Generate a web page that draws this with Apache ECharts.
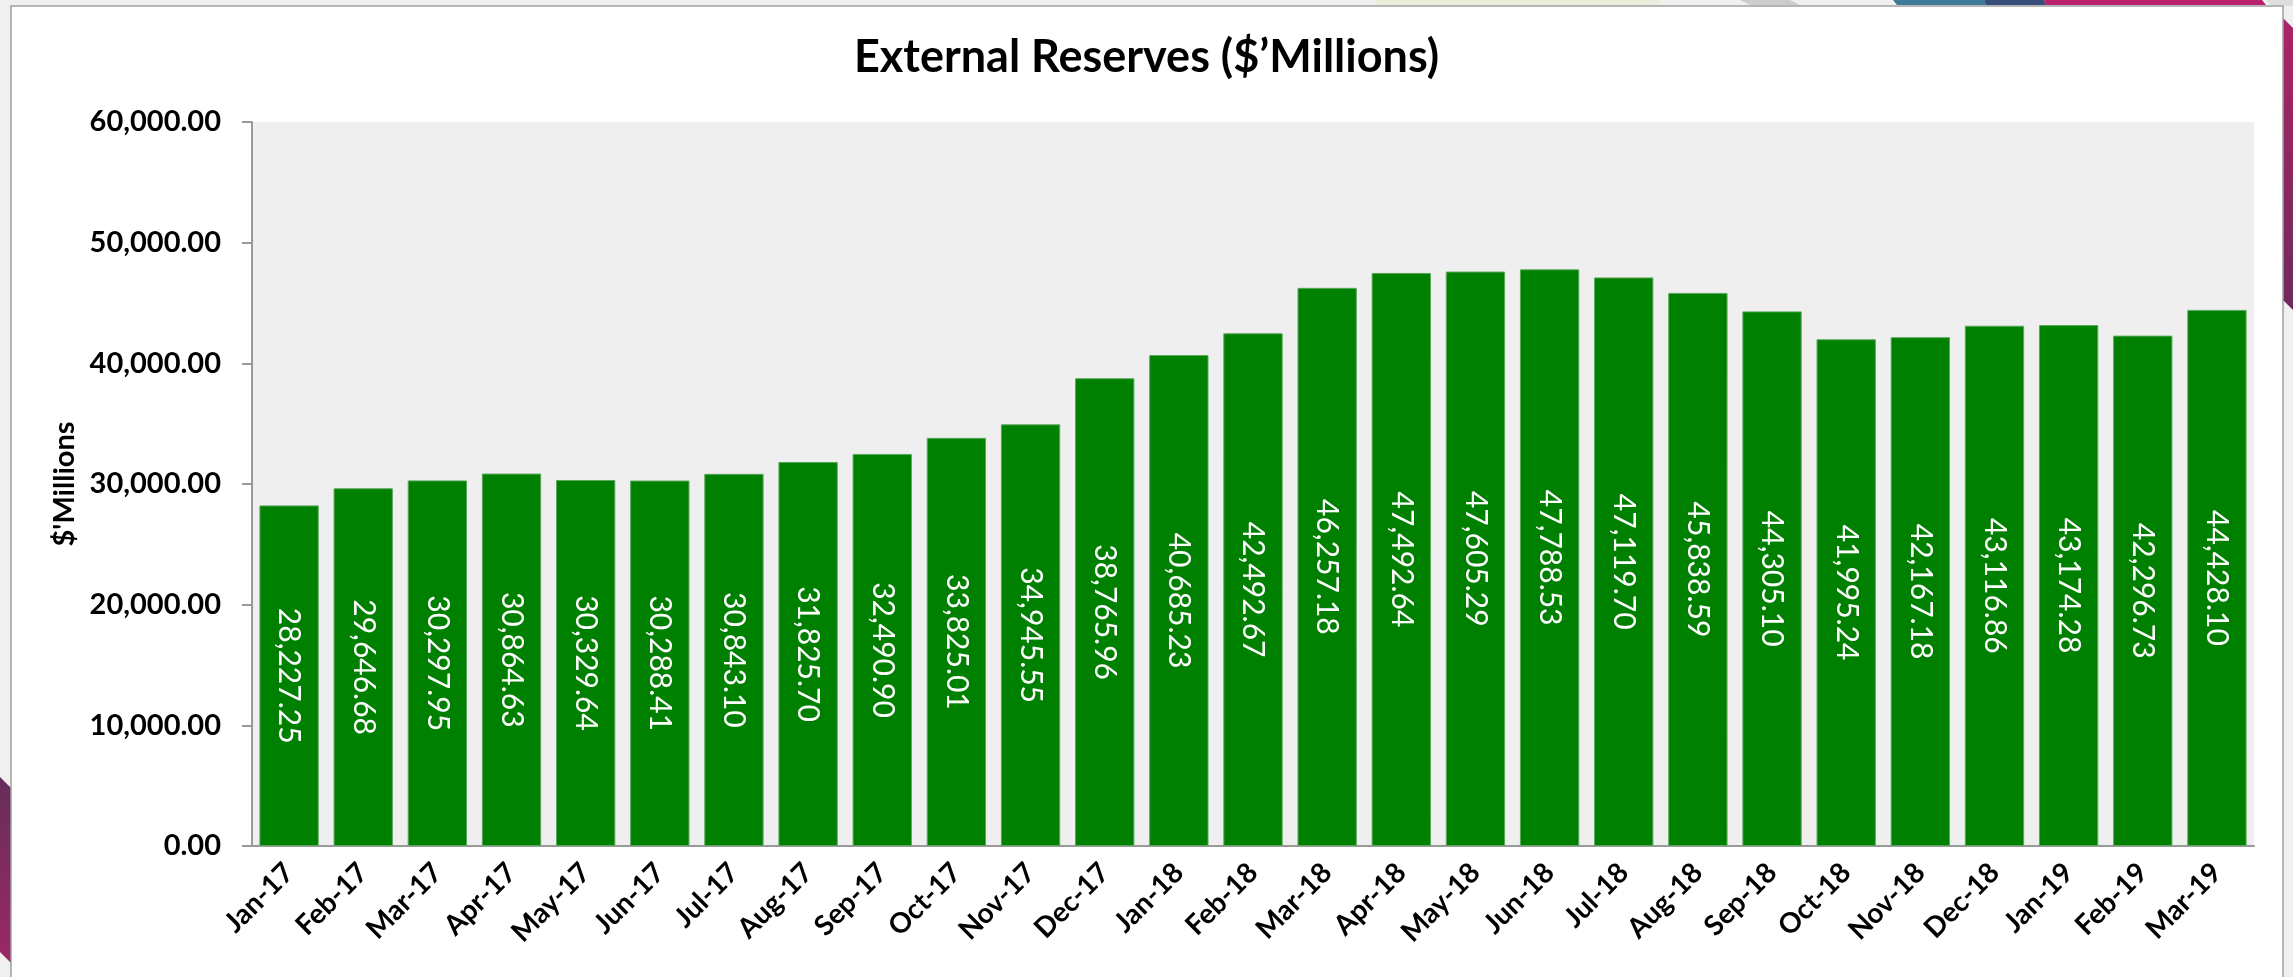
<!DOCTYPE html>
<html>
<head>
<meta charset="utf-8">
<title>External Reserves</title>
<script src="https://cdn.jsdelivr.net/npm/echarts@6/dist/echarts.min.js"></script>
<style>
  html, body { margin: 0; padding: 0; background: #f0f0f0; }
  #chart { width: 2293px; height: 977px; }
</style>
</head>
<body>
<div id="chart"></div>
<script>
// Monthly external reserves, $ millions
const months = [
  'Jan-17', 'Feb-17', 'Mar-17', 'Apr-17', 'May-17', 'Jun-17', 'Jul-17', 'Aug-17', 'Sep-17',
  'Oct-17', 'Nov-17', 'Dec-17', 'Jan-18', 'Feb-18', 'Mar-18', 'Apr-18', 'May-18', 'Jun-18',
  'Jul-18', 'Aug-18', 'Sep-18', 'Oct-18', 'Nov-18', 'Dec-18', 'Jan-19', 'Feb-19', 'Mar-19'
];
const reserves = [
  28227.25, 29646.68, 30297.95, 30864.63, 30329.64, 30288.41, 30843.10, 31825.70, 32490.90,
  33825.01, 34945.55, 38765.96, 40685.23, 42492.67, 46257.18, 47492.64, 47605.29, 47788.53,
  47119.70, 45838.59, 44305.10, 41995.24, 42167.18, 43116.86, 43174.28, 42296.73, 44428.10
];
const yTicks = [0, 10000, 20000, 30000, 40000, 50000, 60000];

const FONT = 'Lato, "Open Sans", sans-serif';
const fmt = v => Number(v).toLocaleString('en-US', { minimumFractionDigits: 2, maximumFractionDigits: 2 });

const chart = echarts.init(document.getElementById('chart'), null, { renderer: 'canvas' });

// slide frame and decorative strips around the chart panel
const decorations = [
  { type: 'rect', shape: { x: 11, y: 6, width: 2272, height: 990 },
    style: { fill: '#ffffff', stroke: '#a0a0a0', lineWidth: 1.5 }, z: -10 },
  { type: 'polygon', shape: { points: [[1376, 0], [1661, 0], [1661, 5], [1376, 5]] },
    style: { fill: '#eceedd' }, z: -11 },
  { type: 'polygon', shape: { points: [[1740, 0], [1790, 0], [1800, 5], [1750, 5]] },
    style: { fill: '#cccccc' }, z: -11 },
  { type: 'polygon', shape: { points: [[1893, 0], [1984, 0], [1986, 5], [1897, 5]] },
    style: { fill: '#3e7b99' }, z: -11 },
  { type: 'polygon', shape: { points: [[1984, 0], [2044, 0], [2046, 5], [1986, 5]] },
    style: { fill: '#374d7a' }, z: -11 },
  { type: 'polygon', shape: { points: [[2044, 0], [2262, 0], [2266, 5], [2046, 5]] },
    style: { fill: '#b8206c' }, z: -11 },
  { type: 'polygon', shape: { points: [[2266, 0], [2293, 0], [2293, 6], [2272, 6]] },
    style: { fill: '#dedede' }, z: -11 },
  { type: 'polygon', shape: { points: [[2283, 18], [2293, 28], [2293, 310], [2283, 300]] },
    style: { fill: { type: 'linear', x: 0, y: 0, x2: 0, y2: 1,
      colorStops: [{ offset: 0, color: '#ad2468' }, { offset: 1, color: '#6f2a5c' }] } }, z: -11 },
  { type: 'polygon', shape: { points: [[0, 777], [11, 788], [11, 963], [0, 952]] },
    style: { fill: { type: 'linear', x: 0, y: 0, x2: 0, y2: 1,
      colorStops: [{ offset: 0, color: '#652d5a' }, { offset: 1, color: '#9c2868' }] } }, z: -11 }
];

chart.setOption({
  backgroundColor: '#f0f0f0',
  animation: false,
  graphic: decorations,
  title: {
    text: 'External Reserves ($\u2019Millions)',
    left: 'center',
    top: 30,
    textStyle: { fontFamily: FONT, fontWeight: 'bold', fontSize: 45, color: '#000' }
  },
  grid: {
    left: 252, right: 39, top: 122, bottom: 131,
    show: true, backgroundColor: '#efefef', borderWidth: 0
  },
  xAxis: {
    type: 'category',
    data: months,
    axisLine: { show: true, lineStyle: { color: '#999999', width: 2 } },
    axisTick: { show: false },
    axisLabel: {
      interval: 0, rotate: 45, margin: 22,
      fontFamily: FONT, fontWeight: 'bold', fontSize: 28, color: '#000'
    }
  },
  yAxis: {
    type: 'value',
    min: yTicks[0],
    max: yTicks[yTicks.length - 1],
    interval: yTicks[1] - yTicks[0],
    name: "$'Millions",
    nameLocation: 'middle',
    nameRotate: 90,
    nameGap: 172,
    nameTextStyle: { fontFamily: FONT, fontWeight: 'bold', fontSize: 29, color: '#000' },
    axisLine: { show: true, lineStyle: { color: '#999999', width: 2 } },
    axisTick: { show: true, length: 10, lineStyle: { color: '#999999', width: 2 } },
    splitLine: { show: false },
    axisLabel: {
      margin: 31,
      fontFamily: FONT, fontWeight: 'bold', fontSize: 29, color: '#000',
      formatter: v => fmt(v)
    }
  },
  series: [{
    type: 'bar',
    data: reserves,
    barCategoryGap: '20%',
    itemStyle: { color: '#008000', borderColor: '#5aa85a', borderWidth: 1 },
    label: {
      show: true,
      position: 'inside',
      rotate: -90,
      color: '#ffffff',
      fontFamily: FONT,
      fontSize: 30,
      formatter: p => fmt(p.value)
    }
  }]
});
</script>
</body>
</html>
